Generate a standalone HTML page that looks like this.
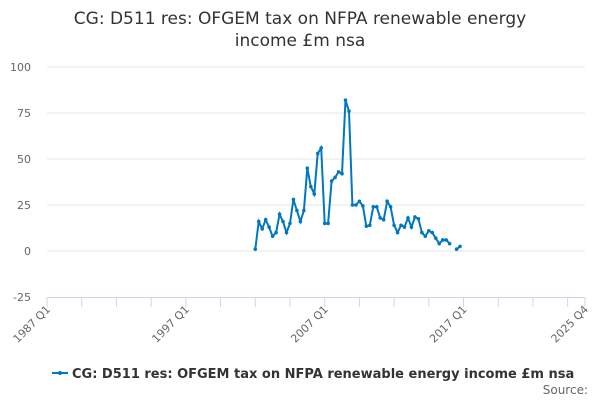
<!DOCTYPE html>
<html><head><meta charset="utf-8"><style>
body{margin:0;background:#fff;font-family:"DejaVu Sans","Liberation Sans",sans-serif}
svg text{font-family:"DejaVu Sans","Liberation Sans",sans-serif}
</style></head><body>
<svg id="chart" width="600" height="400">
<text x="300" y="24" text-anchor="middle" font-size="17" fill="#333">CG: D511 res: OFGEM tax on NFPA renewable energy</text>
<text x="300" y="46" text-anchor="middle" font-size="17" fill="#333">income £m nsa</text>
<g id="grid"></g><g id="xaxis"></g><g id="series"></g>
<g>
<line x1="52" y1="373" x2="68" y2="373" stroke="#0077c0" stroke-width="2"/>
<circle cx="60" cy="373" r="2" fill="#0077c0"/>
<text x="72" y="378" font-size="13" font-weight="bold" fill="#333">CG: D511 res: OFGEM tax on NFPA renewable energy income £m nsa</text>
</g>
<text x="588" y="394" text-anchor="end" font-size="12" fill="#666">Source:</text>
</svg>
<script>
const yTicks=[100,75,50,25,0,-25];
const xTickLabels=["1987 Q1","1997 Q1","2007 Q1","2017 Q1","2025 Q4"];
const xTickLabelIdx=[0,40,80,120,155];
const startIdx=60;
const values=[1,16,12,17,13,8,10,20,16,10,15,28,22,16,22,45,35,31,53,56,15,15,38,40,43,42,82,76,25,25,
27,24.5,13.5,14,24,24,18,17,27,24,14,10,14,13,18,13,18.5,17.5,10,8,11,10,7,4,6,6,4,null,1,2.5];
const NS="http://www.w3.org/2000/svg";
const X0=47,X1=585,Y0=251,PX=(X1-X0)/155;
const x=i=>X0+i*PX, y=v=>Y0-v*1.84;
function mk(t,a,p){const e=document.createElementNS(NS,t);for(const k in a)e.setAttribute(k,a[k]);p.appendChild(e);return e;}
const grid=document.getElementById('grid'),xa=document.getElementById('xaxis'),sr=document.getElementById('series');
yTicks.forEach(v=>{
 if(v!==-25){const l=mk('line',{x1:X0,x2:X1,y1:y(v),y2:y(v),stroke:'#e6e6e6'},grid);
 
 }
 const t=mk('text',{x:31,y:y(v)+4,'text-anchor':'end','font-size':11,fill:'#666'},grid);t.textContent=v;
 
 
});
const ax=mk('line',{x1:X0,x2:X1,y1:297.5,y2:297.5,stroke:'#ccd6eb'},xa);


for(let i=0;i<=155;i+=10){const tk=mk('line',{x1:x(i),x2:x(i),y1:297,y2:307,stroke:'#ccd6eb'},xa);
 
 }
mk('line',{x1:x(155),x2:x(155),y1:297,y2:307,stroke:'#ccd6eb'},xa);
xTickLabels.forEach((s,k)=>{const px=x(xTickLabelIdx[k])+4,py=310;
 const t=mk('text',{x:px,y:py,'text-anchor':'end','font-size':11,fill:'#666',transform:`rotate(-45 ${px} ${py})`},xa);t.textContent=s;
 
 });
let d='',pen=false;
values.forEach((v,k)=>{if(v===null){pen=false;return;}const px=x(startIdx+k),py=y(v);d+=(pen?'L':'M')+px.toFixed(1)+' '+py.toFixed(1);pen=true;});
const p=mk('path',{d:d,fill:'none',stroke:'#0077c0','stroke-width':2},sr);


values.forEach((v,k)=>{if(v===null)return;const c=mk('circle',{cx:x(startIdx+k),cy:y(v),r:1.8,fill:'#0077c0'},sr);
 
 });
</script>
</body></html>
